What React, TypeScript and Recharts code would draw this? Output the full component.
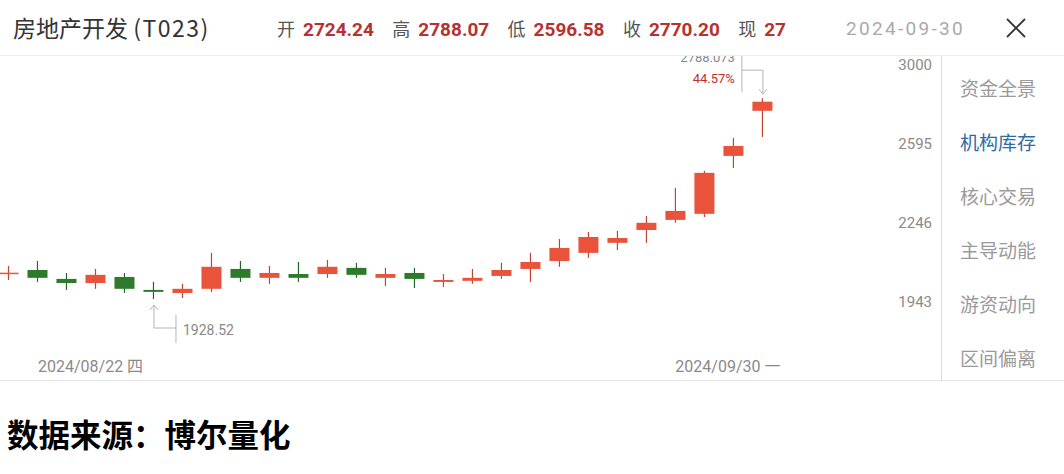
import React from "react";
import { ComposedChart, Bar, XAxis, YAxis, ReferenceDot } from "recharts";

const dates = [
  "2024/08/21", "2024/08/22", "2024/08/23", "2024/08/26", "2024/08/27", "2024/08/28",
  "2024/08/29", "2024/08/30", "2024/09/02", "2024/09/03", "2024/09/04", "2024/09/05",
  "2024/09/06", "2024/09/09", "2024/09/10", "2024/09/11", "2024/09/12", "2024/09/13",
  "2024/09/18", "2024/09/19", "2024/09/20", "2024/09/23", "2024/09/24", "2024/09/25",
  "2024/09/26", "2024/09/27", "2024/09/30",
];
const opens = [2022, 2034, 2001, 1986, 2008, 1961, 1950, 1965, 2038, 2005, 2019, 2019, 2042, 2005, 2023, 1990, 1994, 2012, 2038, 2068, 2099, 2138, 2189, 2230, 2255, 2508, 2724.24];
const highs = [2049, 2068, 2023, 2038, 2023, 1990, 1983, 2099, 2068, 2049, 2064, 2072, 2061, 2042, 2042, 2019, 2038, 2061, 2099, 2153, 2181, 2185, 2246, 2365, 2440, 2592, 2788.07];
const lows = [1997, 1990, 1961, 1965, 1950, 1928.52, 1932, 1954, 1990, 1983, 1990, 2005, 2005, 1975, 1968, 1972, 1983, 2001, 1990, 2046, 2080, 2110, 2138, 2218, 2242, 2453, 2596.58];
const closes = [2024, 2005, 1986, 2016, 1965, 1954, 1965, 2046, 2005, 2023, 2005, 2046, 2016, 2019, 2001, 1997, 2005, 2034, 2064, 2118, 2161, 2157, 2218, 2267, 2431, 2554, 2770.2];

const yTicks = [3000, 2595, 2246, 1943];
const xTickIdx = [1, 26];
const weekdays: Record<string, string> = { "2024/08/22": "四", "2024/09/30": "一" };
const menuItems = ["资金全景", "机构库存", "核心交易", "主导动能", "游资动向", "区间偏离"];
const activeMenu = "机构库存";
const quoteLabels = ["开", "高", "低", "收", "现"];
const quoteValues = ["2724.24", "2788.07", "2596.58", "2770.20", "27"];

const UP = "#e9533b";
const UP_WICK = "#c0452f";
const DOWN = "#2d7a2a";
const DOWN_WICK = "#24652a";
const RED_TEXT = "#b8312f";

const data = dates.map((d, i) => ({
  idx: i,
  date: d,
  open: opens[i],
  high: highs[i],
  low: lows[i],
  close: closes[i],
}));

const minLow = Math.min(...lows);
const minIdx = lows.indexOf(minLow);
const maxHigh = Math.max(...highs);
const maxIdx = highs.indexOf(maxHigh);
const pct = ((maxHigh / minLow - 1) * 100).toFixed(2) + "%";

// eslint-disable-next-line @typescript-eslint/no-explicit-any
function Candle(props: any) {
  const { x, y, width, height, payload } = props;
  if (!payload) return null;
  const top = Math.min(y, y + height);
  const span = Math.abs(height);
  const lh = Math.log(payload.high);
  const k = span / (lh - Math.log(payload.low));
  const yOf = (v: number) => top + (lh - Math.log(v)) * k;
  const up = payload.close >= payload.open;
  const cx = x + width / 2;
  const yo = yOf(payload.open);
  const yc = yOf(payload.close);
  const bTop = Math.min(yo, yc);
  const bH = Math.max(Math.abs(yo - yc), 1.5);
  return (
    <g>
      <line x1={cx} x2={cx} y1={top} y2={top + span} stroke={up ? UP_WICK : DOWN_WICK} strokeWidth={1.2} />
      <rect x={x} y={bTop} width={width} height={bH} fill={up ? UP : DOWN} />
    </g>
  );
}

// eslint-disable-next-line @typescript-eslint/no-explicit-any
function YTick(props: any) {
  const { y, payload } = props;
  return (
    <text x={932} y={y + 8} textAnchor="end" dominantBaseline="middle" fontSize={15} fill="#8a8a8a" fontFamily="Roboto, sans-serif">
      {payload.value}
    </text>
  );
}

// eslint-disable-next-line @typescript-eslint/no-explicit-any
function XTick(props: any) {
  const { x, payload } = props;
  const d = dates[payload.value];
  const last = payload.value === dates.length - 1;
  return (
    <text x={last ? x - 35 : x} y={368} textAnchor={last ? "middle" : "start"} dominantBaseline="middle" fontSize={16} fill="#8a8a8a" fontFamily="Roboto, 'Noto Sans CJK SC', sans-serif">
      {d} {weekdays[d]}
    </text>
  );
}

// eslint-disable-next-line @typescript-eslint/no-explicit-any
function LowMark(props: any) {
  const { cx, cy } = props;
  const c = "#b5b5b5";
  return (
    <g>
      <polyline points={`${cx - 4},${cy + 11} ${cx},${cy + 6} ${cx + 4},${cy + 11}`} fill="none" stroke={c} />
      <polyline points={`${cx},${cy + 6} ${cx},${cy + 29} ${cx + 22},${cy + 29}`} fill="none" stroke={c} />
      <line x1={cx + 22} x2={cx + 22} y1={cy + 16} y2={cy + 44} stroke={c} />
      <text x={cx + 29} y={cy + 32} dominantBaseline="middle" fontSize={14} fill="#888" fontFamily="Roboto, sans-serif">
        {minLow.toFixed(2)}
      </text>
    </g>
  );
}

// eslint-disable-next-line @typescript-eslint/no-explicit-any
function HighMark(props: any) {
  const { cx, cy } = props;
  const c = "#b5b5b5";
  return (
    <g>
      <polyline points={`${cx - 21},${cy - 28} ${cx},${cy - 28} ${cx},${cy - 4}`} fill="none" stroke={c} />
      <polyline points={`${cx - 4},${cy - 9} ${cx},${cy - 4} ${cx + 4},${cy - 9}`} fill="none" stroke={c} />
      <line x1={cx - 21} x2={cx - 21} y1={cy - 45} y2={cy - 6} stroke={c} />
      <text x={cx - 28} y={cy - 19} textAnchor="end" dominantBaseline="middle" fontSize={13} fill={RED_TEXT} fontFamily="Roboto, sans-serif">
        {pct}
      </text>
      <text x={cx - 28} y={cy - 40} textAnchor="end" dominantBaseline="middle" fontSize={13} fill="#888" fontFamily="Roboto, sans-serif">
        2788.073
      </text>
    </g>
  );
}

export default function App() {
  return (
    <div style={{ position: "absolute", left: 0, top: 0, width: 1064, height: 474, background: "#fff", overflow: "hidden", fontFamily: "'Noto Sans CJK SC', sans-serif" }}>
      <div style={{ position: "absolute", left: 0, top: 0 }}>
        <ComposedChart width={942} height={380} data={data} margin={{ top: 57, right: 0, left: 0, bottom: 0 }}>
          <XAxis
            dataKey="idx"
            type="number"
            domain={[-0.31, 30.21]}
            allowDataOverflow
            ticks={xTickIdx}
            tick={<XTick />}
            axisLine={false}
            tickLine={false}
            height={24}
          />
          <YAxis
            orientation="right"
            scale="log"
            domain={[1737, 3007]}
            allowDataOverflow
            ticks={yTicks}
            tick={<YTick />}
            axisLine={false}
            tickLine={false}
            width={57}
          />
          <Bar dataKey={(d: { low: number; high: number }) => [d.low, d.high]} barSize={20} shape={<Candle />} isAnimationActive={false} />
          <ReferenceDot x={minIdx} y={minLow} shape={<LowMark />} />
          <ReferenceDot x={maxIdx} y={maxHigh} shape={<HighMark />} />
        </ComposedChart>
      </div>

      {/* header */}
      <div style={{ position: "absolute", left: 0, top: 0, width: 1064, height: 55, background: "#fff", borderBottom: "1px solid #eeeeee" }}>
        <div style={{ position: "absolute", left: 13, top: 11, fontSize: 23, lineHeight: "32px", color: "#333", whiteSpace: "nowrap" }}>
          房地产开发 <span style={{ letterSpacing: 1.5 }}>(T023)</span>
        </div>
        {quoteLabels.map((l, i) => (
          <div key={l} style={{ position: "absolute", left: 277 + i * 115.3, top: 13, lineHeight: "30px", whiteSpace: "nowrap" }}>
            <span style={{ fontSize: 18, color: "#555" }}>{l}</span>
            <span style={{ fontSize: 19, color: RED_TEXT, fontWeight: 700, marginLeft: 8, fontFamily: "Roboto, sans-serif" }}>{quoteValues[i]}</span>
          </div>
        ))}
        <div style={{ position: "absolute", left: 846, top: 14, fontSize: 19, lineHeight: "30px", color: "#aaa", letterSpacing: 2.3, fontFamily: "Roboto, sans-serif" }}>
          2024-09-30
        </div>
        <div style={{ position: "absolute", left: 1004, top: 14, width: 24, height: 28 }}>
          <svg width={24} height={28}>
            <line x1={3} y1={5} x2={21} y2={23} stroke="#333" strokeWidth={1.8} />
            <line x1={21} y1={5} x2={3} y2={23} stroke="#333" strokeWidth={1.8} />
          </svg>
        </div>
      </div>

      {/* frame lines */}
      <div style={{ position: "absolute", left: 941, top: 56, width: 1, height: 326, background: "#dcdcdc" }} />
      <div style={{ position: "absolute", left: 0, top: 380, width: 1064, height: 1, background: "#e6e6e6" }} />

      {/* side menu */}
      {menuItems.map((m, i) => (
        <div key={m} style={{ position: "absolute", left: 960, top: 76 + i * 54, fontSize: 19, lineHeight: "24px", color: m === activeMenu ? "#2c6ba3" : "#9a9a9a", whiteSpace: "nowrap" }}>
          {m}
        </div>
      ))}

      {/* footer */}
      <div style={{ position: "absolute", left: 7, top: 413, fontSize: 31.5, lineHeight: "40px", fontWeight: 700, color: "#000", whiteSpace: "nowrap" }}>
        数据来源：博尔量化
      </div>
    </div>
  );
}
